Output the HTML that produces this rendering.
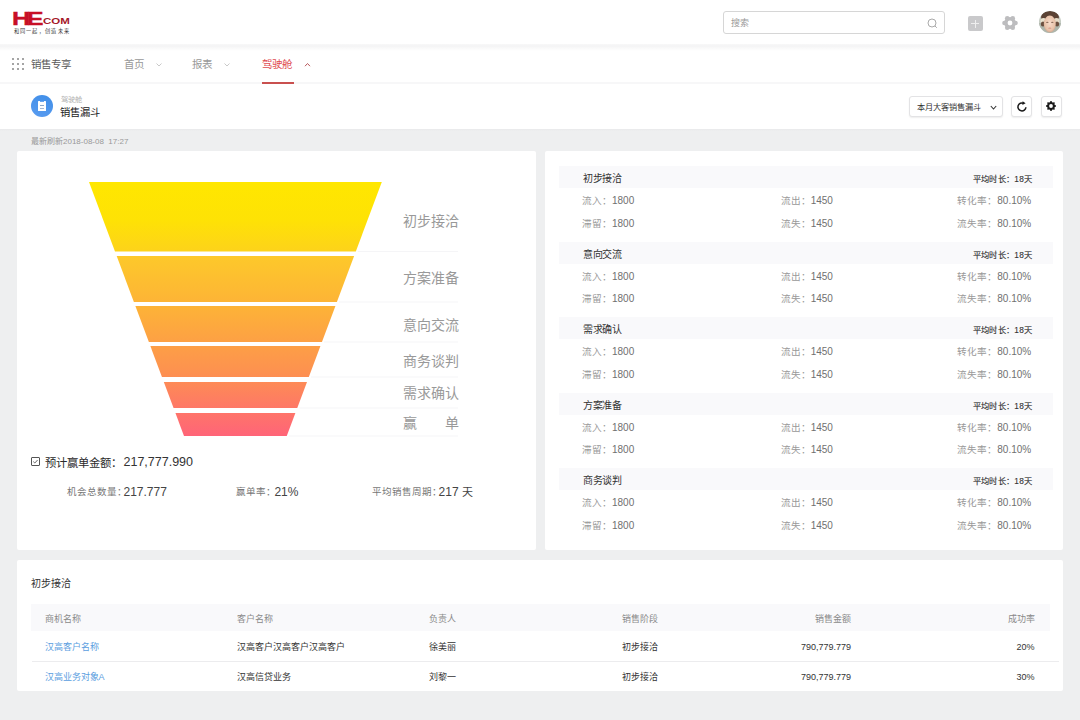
<!DOCTYPE html>
<html lang="zh-CN"><head><meta charset="utf-8">
<style>
*{box-sizing:border-box;margin:0;padding:0}
html,body{width:1080px;height:720px;overflow:hidden;background:#eeeff0;font-family:"Liberation Sans",sans-serif;color:#333}
.a{position:absolute;white-space:nowrap}
.t{position:absolute;white-space:nowrap;line-height:1}
#top{position:absolute;left:0;top:0;width:1080px;height:45px;background:#fff}
#sep1{position:absolute;left:0;top:44px;width:1080px;height:7px;background:linear-gradient(#f8f8f8,#f4f4f5 30%,#fafafa 65%,#fff)}
#nav{position:absolute;left:0;top:51px;width:1080px;height:30.5px;background:#fff}
#sep2{position:absolute;left:0;top:81.5px;width:1080px;height:3px;background:#f7f7f8}
#ph{position:absolute;left:0;top:84px;width:1080px;height:45px;background:#fff}
.card{position:absolute;background:#fff;border-radius:2px}
.band{position:absolute;background:#f9f9fb}
.lbl{color:#999}
.num{color:#707070}
</style></head><body>

<div id="top"></div>
<div id="sep1"></div>
<div id="nav"></div>
<div id="sep2"></div>
<div id="ph"></div>
<div class="a" style="left:0;top:129px;width:1080px;height:2px;background:linear-gradient(#e9e9eb,#eeeff0)"></div>

<!-- logo -->
<div class="t" style="left:11.5px;top:9.5px;font-size:18px;font-weight:bold;color:#c70f25;letter-spacing:-2.4px;-webkit-text-stroke:0.35px #c70f25;transform:scaleX(1.4);transform-origin:0 0">HE</div>
<div class="t" style="left:42.5px;top:16.2px;font-size:9.6px;font-weight:bold;color:#a5182a;transform:scaleX(1.2);transform-origin:0 0">COM</div>
<div class="t" style="left:13.5px;top:28.6px;font-size:5.2px;color:#333;letter-spacing:1.3px">和同一起，创造未来</div>
<!-- search -->
<div class="a" style="left:723px;top:11px;width:222px;height:23px;border:1px solid #d6d6d6;border-radius:3px;background:#fff"></div>
<div class="t" style="left:731px;top:19.3px;font-size:9px;color:#999">搜索</div>
<svg class="a" style="left:926px;top:17px" width="12" height="12" viewBox="0 0 12 12"><circle cx="6" cy="6" r="4" fill="none" stroke="#aaa" stroke-width="1"/><line x1="8.9" y1="8.9" x2="10.8" y2="10.8" stroke="#aaa" stroke-width="1"/></svg>
<!-- plus -->
<div class="a" style="left:967.5px;top:16px;width:15px;height:15px;background:#c9c9cb;border-radius:2px"></div>
<div class="a" style="left:974.5px;top:19.5px;width:1.2px;height:8px;background:#eee"></div>
<div class="a" style="left:971px;top:23px;width:8px;height:1.2px;background:#eee"></div>
<!-- gear -->
<svg class="a" style="left:1001.6px;top:15.2px" width="16" height="16" viewBox="0 0 16 16"><g fill="#bdbdbf"><circle cx="8" cy="8" r="5.9"/><circle cx="13.50" cy="8.00" r="2.3"/><circle cx="10.75" cy="12.76" r="2.3"/><circle cx="5.25" cy="12.76" r="2.3"/><circle cx="2.50" cy="8.00" r="2.3"/><circle cx="5.25" cy="3.24" r="2.3"/><circle cx="10.75" cy="3.24" r="2.3"/></g><circle cx="8" cy="8" r="2.4" fill="#fff"/></svg>
<!-- avatar -->
<svg class="a" style="left:1039px;top:11px" width="22" height="22" viewBox="0 0 22 22"><defs><clipPath id="avc"><circle cx="11" cy="11" r="11"/></clipPath>
<radialGradient id="avf" cx="0.5" cy="0.45" r="0.6"><stop offset="0" stop-color="#f6dccb"/><stop offset="0.7" stop-color="#e9c3aa"/><stop offset="1" stop-color="#c79c84"/></radialGradient></defs>
<g clip-path="url(#avc)">
<rect width="22" height="22" fill="#c5cbc2"/>
<rect x="0" y="12" width="22" height="10" fill="#aeb6ac"/>
<ellipse cx="11" cy="6" rx="9" ry="6" fill="#5b4234"/>
<ellipse cx="4.5" cy="10" rx="3" ry="3" fill="#e9e2cf"/>
<ellipse cx="17.5" cy="10" rx="3" ry="3" fill="#e5dcc8"/>
<ellipse cx="4" cy="13" rx="2.2" ry="2.5" fill="#6b5040"/>
<ellipse cx="18" cy="13" rx="2.2" ry="2.5" fill="#6b5040"/>
<ellipse cx="10.8" cy="13" rx="6" ry="8.5" fill="url(#avf)"/>
<ellipse cx="8.3" cy="11.3" rx="1.3" ry="0.6" fill="#8a6a58"/>
<ellipse cx="13.3" cy="11.3" rx="1.3" ry="0.6" fill="#8a6a58"/>
<ellipse cx="10.8" cy="17.2" rx="1.6" ry="0.6" fill="#d89a8a"/>
</g></svg>
<!-- nav -->
<svg class="a" style="left:12px;top:58px" width="12" height="12" viewBox="0 0 12 12" fill="#a5a5a5">
<rect x="0" y="0" width="2" height="2"/><rect x="5" y="0" width="2" height="2"/><rect x="10" y="0" width="2" height="2"/>
<rect x="0" y="5" width="2" height="2"/><rect x="5" y="5" width="2" height="2"/><rect x="10" y="5" width="2" height="2"/>
<rect x="0" y="10" width="2" height="2"/><rect x="5" y="10" width="2" height="2"/><rect x="10" y="10" width="2" height="2"/></svg>
<div class="t" style="left:31px;top:58.8px;font-size:10.5px;color:#5a5a5a">销售专享</div>
<div class="t" style="left:124px;top:58.8px;font-size:10.5px;color:#999">首页</div>
<svg class="a" style="left:155.5px;top:62.5px" width="6" height="4" viewBox="0 0 6 4"><path d="M0.5 0.5L3 3L5.5 0.5" fill="none" stroke="#bbb" stroke-width="0.8"/></svg>
<div class="t" style="left:192px;top:58.8px;font-size:10.5px;color:#999">报表</div>
<svg class="a" style="left:224px;top:62.5px" width="6" height="4" viewBox="0 0 6 4"><path d="M0.5 0.5L3 3L5.5 0.5" fill="none" stroke="#bbb" stroke-width="0.8"/></svg>
<div class="t" style="left:262px;top:58.8px;font-size:10.5px;color:#e04a4f">驾驶舱</div>
<svg class="a" style="left:304px;top:62px" width="7" height="5" viewBox="0 0 7 5"><path d="M1 4.2L3.5 1.5L6 4.2" fill="none" stroke="#b8585c" stroke-width="1"/></svg>
<div class="a" style="left:262px;top:81.7px;width:32px;height:2px;background:#c9504f"></div>

<!-- page header -->
<div class="a" style="left:31px;top:95px;width:22px;height:22px;border-radius:50%;background:linear-gradient(200deg,#3f8ee8,#5a9cf0)"></div>
<div class="a" style="left:38px;top:101px;width:8px;height:10.3px;background:#fff;border-radius:0.5px"></div>
<div class="a" style="left:39.6px;top:101px;width:4.8px;height:0.9px;background:#6aa6ee"></div>
<div class="a" style="left:40px;top:105px;width:4px;height:1.2px;background:#8fa8c8"></div>
<div class="a" style="left:40px;top:108px;width:4px;height:0.9px;background:#a8b8d0"></div>
<div class="t" style="left:60.5px;top:95.8px;font-size:7.3px;color:#b0b0b0">驾驶舱</div>
<div class="t" style="left:60px;top:107.5px;font-size:10.3px;color:#1a1a1a">销售漏斗</div>

<div class="a" style="left:909px;top:96px;width:94px;height:21px;border:1px solid #e3e3e5;border-radius:3px;background:#fff;box-shadow:0 1px 1.5px rgba(0,0,0,0.07)"></div>
<div class="t" style="left:917px;top:103.5px;font-size:8.2px;color:#333">本月大客销售漏斗</div>
<svg class="a" style="left:990px;top:104.8px" width="7" height="5" viewBox="0 0 7 5"><path d="M0.8 1L3.5 4L6.2 1" fill="none" stroke="#333" stroke-width="1.1"/></svg>
<div class="a" style="left:1011px;top:96px;width:21px;height:21px;border:1px solid #e3e3e5;border-radius:3px;background:#fff;box-shadow:0 1px 1.5px rgba(0,0,0,0.07)"></div>
<svg class="a" style="left:1015px;top:100px" width="14" height="14" viewBox="0 0 14 14"><path d="M10.9 7.2A4 4 0 1 1 8.6 3.3" fill="none" stroke="#1a1a1a" stroke-width="1.5"/><path d="M7.6 1.2L10.6 3.2L7.4 5z" fill="#1a1a1a"/></svg>
<div class="a" style="left:1041px;top:96px;width:21px;height:21px;border:1px solid #e3e3e5;border-radius:3px;background:#fff;box-shadow:0 1px 1.5px rgba(0,0,0,0.07)"></div>
<svg class="a" style="left:1044px;top:99.4px" width="14" height="14" viewBox="0 0 14 14"><polygon fill="#1a1a1a" points="6.51,2.02 7.49,2.02 8.13,3.27 8.84,3.56 10.17,3.13 10.87,3.83 10.44,5.16 10.73,5.87 11.98,6.51 11.98,7.49 10.73,8.13 10.44,8.84 10.87,10.17 10.17,10.87 8.84,10.44 8.13,10.73 7.49,11.98 6.51,11.98 5.87,10.73 5.16,10.44 3.83,10.87 3.13,10.17 3.56,8.84 3.27,8.13 2.02,7.49 2.02,6.51 3.27,5.87 3.56,5.16 3.13,3.83 3.83,3.13 5.16,3.56 5.87,3.27"/><circle cx="7" cy="7" r="1.9" fill="#fff"/></svg>

<div class="t" style="left:31px;top:137.5px;font-size:8px;color:#999">最新刷新2018-08-08&nbsp;&nbsp;17:27</div>

<!-- cards -->
<div class="card" style="left:17px;top:151px;width:519px;height:399px"></div>
<div class="card" style="left:545px;top:151px;width:518px;height:399px"></div>
<div class="card" style="left:17px;top:560px;width:1046px;height:131px"></div>

<!-- FUNNEL -->
<svg class="a" style="left:0;top:0" width="540" height="560" viewBox="0 0 540 560">
<defs><linearGradient id="fg" gradientUnits="userSpaceOnUse" x1="0" y1="182" x2="0" y2="436"><stop offset="0" stop-color="#ffe700"/><stop offset="0.15" stop-color="#fee205"/><stop offset="0.27" stop-color="#fdd31a"/><stop offset="0.29" stop-color="#fdc92a"/><stop offset="0.5" stop-color="#fdb138"/><stop offset="0.75" stop-color="#fd9150"/><stop offset="1" stop-color="#ff6478"/></linearGradient></defs>
<polygon points="89.00,182 381.80,182 355.80,251.5 115.00,251.5" fill="url(#fg)"/>
<polygon points="116.68,256 354.12,256 336.91,302 133.89,302" fill="url(#fg)"/>
<polygon points="135.39,306 335.41,306 321.94,342 148.86,342" fill="url(#fg)"/>
<polygon points="150.35,346 320.45,346 308.85,377 161.95,377" fill="url(#fg)"/>
<polygon points="163.82,382 306.98,382 297.25,408 173.55,408" fill="url(#fg)"/>
<polygon points="175.42,413 295.38,413 286.78,436 184.02,436" fill="url(#fg)"/>
<rect x="357.8" y="251.0" width="100.2" height="1" fill="#f5f5f7"/>
<rect x="338.9" y="301.5" width="119.1" height="1" fill="#f5f5f7"/>
<rect x="323.9" y="341.5" width="134.1" height="1" fill="#f5f5f7"/>
<rect x="310.9" y="376.5" width="147.1" height="1" fill="#f5f5f7"/>
<rect x="299.3" y="407.5" width="158.7" height="1" fill="#f5f5f7"/>
<rect x="288.8" y="435.5" width="169.2" height="1" fill="#f5f5f7"/>
</svg>
<div class="t" style="left:403px;top:214.4px;font-size:14px;color:#999">初步接洽</div>
<div class="t" style="left:403px;top:271.4px;font-size:14px;color:#999">方案准备</div>
<div class="t" style="left:403px;top:317.7px;font-size:14px;color:#999">意向交流</div>
<div class="t" style="left:403px;top:353.6px;font-size:14px;color:#999">商务谈判</div>
<div class="t" style="left:403px;top:385.8px;font-size:14px;color:#999">需求确认</div>
<div class="t" style="left:403px;top:416.0px;font-size:14px;color:#999">赢</div>
<div class="t" style="left:445px;top:416.0px;font-size:14px;color:#999">单</div>
<svg class="a" style="left:31px;top:456.5px" width="9" height="9" viewBox="0 0 9 9"><rect x="0.5" y="0.5" width="8" height="8" rx="0.5" fill="none" stroke="#555" stroke-width="1"/><path d="M2.3 4.6L3.8 6L6.6 3" fill="none" stroke="#555" stroke-width="0.9"/></svg>
<div class="t" style="left:45px;top:457.5px;font-size:11.3px;color:#2a2a2a">预计赢单金额：</div>
<div class="t" style="left:123.5px;top:455.5px;font-size:12.5px;color:#333">217,777.990</div>
<div class="t" style="left:67px;top:487px;font-size:9.5px;color:#777">机会总数量：</div>
<div class="t" style="left:123.5px;top:485.5px;font-size:12px;color:#444">217.777</div>
<div class="t" style="left:235.5px;top:487px;font-size:9.5px;color:#777">赢单率：</div>
<div class="t" style="left:274.4px;top:485.5px;font-size:12px;color:#444">21%</div>
<div class="t" style="left:371.7px;top:487px;font-size:9.5px;color:#777">平均销售周期：</div>
<div class="t" style="left:438.6px;top:485.5px;font-size:12px;color:#444">217 <span style="font-size:11px">天</span></div>
<!-- RIGHT PANEL -->
<div class="band" style="left:559px;top:166.00px;width:494px;height:22px"></div>
<div class="t" style="left:583px;top:174.10px;font-size:10px;letter-spacing:-0.5px;color:#333">初步接洽</div>
<div class="t" style="right:47.4px;top:175.30px;font-size:8.3px;letter-spacing:0.35px;color:#333;-webkit-text-stroke:0.12px #333">平均时长：18天</div>
<div class="t" style="left:582px;top:196.20px;font-size:10px"><span class="lbl" style="font-size:9.6px">流入：</span><span class="num">1800</span></div>
<div class="t" style="left:780.7px;top:196.20px;font-size:10px"><span class="lbl" style="font-size:9.6px">流出：</span><span class="num">1450</span></div>
<div class="t" style="right:48.799999999999955px;top:196.20px;font-size:10px"><span class="lbl" style="font-size:9.6px">转化率：</span><span class="num">80.10%</span></div>
<div class="t" style="left:582px;top:218.90px;font-size:10px"><span class="lbl" style="font-size:9.6px">滞留：</span><span class="num">1800</span></div>
<div class="t" style="left:780.7px;top:218.90px;font-size:10px"><span class="lbl" style="font-size:9.6px">流失：</span><span class="num">1450</span></div>
<div class="t" style="right:48.799999999999955px;top:218.90px;font-size:10px"><span class="lbl" style="font-size:9.6px">流失率：</span><span class="num">80.10%</span></div>
<div class="band" style="left:559px;top:241.50px;width:494px;height:22px"></div>
<div class="t" style="left:583px;top:249.60px;font-size:10px;letter-spacing:-0.5px;color:#333">意向交流</div>
<div class="t" style="right:47.4px;top:250.80px;font-size:8.3px;letter-spacing:0.35px;color:#333;-webkit-text-stroke:0.12px #333">平均时长：18天</div>
<div class="t" style="left:582px;top:271.70px;font-size:10px"><span class="lbl" style="font-size:9.6px">流入：</span><span class="num">1800</span></div>
<div class="t" style="left:780.7px;top:271.70px;font-size:10px"><span class="lbl" style="font-size:9.6px">流出：</span><span class="num">1450</span></div>
<div class="t" style="right:48.799999999999955px;top:271.70px;font-size:10px"><span class="lbl" style="font-size:9.6px">转化率：</span><span class="num">80.10%</span></div>
<div class="t" style="left:582px;top:294.40px;font-size:10px"><span class="lbl" style="font-size:9.6px">滞留：</span><span class="num">1800</span></div>
<div class="t" style="left:780.7px;top:294.40px;font-size:10px"><span class="lbl" style="font-size:9.6px">流失：</span><span class="num">1450</span></div>
<div class="t" style="right:48.799999999999955px;top:294.40px;font-size:10px"><span class="lbl" style="font-size:9.6px">流失率：</span><span class="num">80.10%</span></div>
<div class="band" style="left:559px;top:317.00px;width:494px;height:22px"></div>
<div class="t" style="left:583px;top:325.10px;font-size:10px;letter-spacing:-0.5px;color:#333">需求确认</div>
<div class="t" style="right:47.4px;top:326.30px;font-size:8.3px;letter-spacing:0.35px;color:#333;-webkit-text-stroke:0.12px #333">平均时长：18天</div>
<div class="t" style="left:582px;top:347.20px;font-size:10px"><span class="lbl" style="font-size:9.6px">流入：</span><span class="num">1800</span></div>
<div class="t" style="left:780.7px;top:347.20px;font-size:10px"><span class="lbl" style="font-size:9.6px">流出：</span><span class="num">1450</span></div>
<div class="t" style="right:48.799999999999955px;top:347.20px;font-size:10px"><span class="lbl" style="font-size:9.6px">转化率：</span><span class="num">80.10%</span></div>
<div class="t" style="left:582px;top:369.90px;font-size:10px"><span class="lbl" style="font-size:9.6px">滞留：</span><span class="num">1800</span></div>
<div class="t" style="left:780.7px;top:369.90px;font-size:10px"><span class="lbl" style="font-size:9.6px">流失：</span><span class="num">1450</span></div>
<div class="t" style="right:48.799999999999955px;top:369.90px;font-size:10px"><span class="lbl" style="font-size:9.6px">流失率：</span><span class="num">80.10%</span></div>
<div class="band" style="left:559px;top:392.50px;width:494px;height:22px"></div>
<div class="t" style="left:583px;top:400.60px;font-size:10px;letter-spacing:-0.5px;color:#333">方案准备</div>
<div class="t" style="right:47.4px;top:401.80px;font-size:8.3px;letter-spacing:0.35px;color:#333;-webkit-text-stroke:0.12px #333">平均时长：18天</div>
<div class="t" style="left:582px;top:422.70px;font-size:10px"><span class="lbl" style="font-size:9.6px">流入：</span><span class="num">1800</span></div>
<div class="t" style="left:780.7px;top:422.70px;font-size:10px"><span class="lbl" style="font-size:9.6px">流出：</span><span class="num">1450</span></div>
<div class="t" style="right:48.799999999999955px;top:422.70px;font-size:10px"><span class="lbl" style="font-size:9.6px">转化率：</span><span class="num">80.10%</span></div>
<div class="t" style="left:582px;top:445.40px;font-size:10px"><span class="lbl" style="font-size:9.6px">滞留：</span><span class="num">1800</span></div>
<div class="t" style="left:780.7px;top:445.40px;font-size:10px"><span class="lbl" style="font-size:9.6px">流失：</span><span class="num">1450</span></div>
<div class="t" style="right:48.799999999999955px;top:445.40px;font-size:10px"><span class="lbl" style="font-size:9.6px">流失率：</span><span class="num">80.10%</span></div>
<div class="band" style="left:559px;top:468.00px;width:494px;height:22px"></div>
<div class="t" style="left:583px;top:476.10px;font-size:10px;letter-spacing:-0.5px;color:#333">商务谈判</div>
<div class="t" style="right:47.4px;top:477.30px;font-size:8.3px;letter-spacing:0.35px;color:#333;-webkit-text-stroke:0.12px #333">平均时长：18天</div>
<div class="t" style="left:582px;top:498.20px;font-size:10px"><span class="lbl" style="font-size:9.6px">流入：</span><span class="num">1800</span></div>
<div class="t" style="left:780.7px;top:498.20px;font-size:10px"><span class="lbl" style="font-size:9.6px">流出：</span><span class="num">1450</span></div>
<div class="t" style="right:48.799999999999955px;top:498.20px;font-size:10px"><span class="lbl" style="font-size:9.6px">转化率：</span><span class="num">80.10%</span></div>
<div class="t" style="left:582px;top:520.90px;font-size:10px"><span class="lbl" style="font-size:9.6px">滞留：</span><span class="num">1800</span></div>
<div class="t" style="left:780.7px;top:520.90px;font-size:10px"><span class="lbl" style="font-size:9.6px">流失：</span><span class="num">1450</span></div>
<div class="t" style="right:48.799999999999955px;top:520.90px;font-size:10px"><span class="lbl" style="font-size:9.6px">流失率：</span><span class="num">80.10%</span></div>
<!-- TABLE -->
<div class="t" style="left:31px;top:578.5px;font-size:10px;color:#333">初步接洽</div>
<div class="band" style="left:31px;top:604px;width:1019px;height:27px"></div>
<div class="t" style="left:44.5px;top:615.0px;font-size:9px;color:#8a8a8a">商机名称</div>
<div class="t" style="left:236.5px;top:615.0px;font-size:9px;color:#8a8a8a">客户名称</div>
<div class="t" style="left:429px;top:615.0px;font-size:9px;color:#8a8a8a">负责人</div>
<div class="t" style="left:621.5px;top:615.0px;font-size:9px;color:#8a8a8a">销售阶段</div>
<div class="t" style="right:229.0px;top:615.0px;font-size:9px;color:#8a8a8a">销售金额</div>
<div class="t" style="right:45.4px;top:615.0px;font-size:9px;color:#8a8a8a">成功率</div>
<div class="t" style="left:44.5px;top:642.7px;font-size:9px;color:#5b9ee0">汉高客户名称</div>
<div class="t" style="left:236.5px;top:642.7px;font-size:9px;color:#333">汉高客户汉高客户汉高客户</div>
<div class="t" style="left:429px;top:642.7px;font-size:9px;color:#333">徐美丽</div>
<div class="t" style="left:621.5px;top:642.7px;font-size:9px;color:#333">初步接洽</div>
<div class="t" style="right:229.0px;top:642.7px;font-size:9px;color:#333">790,779.779</div>
<div class="t" style="right:45.4px;top:642.7px;font-size:9px;color:#333">20%</div>
<div class="t" style="left:44.5px;top:672.9px;font-size:9px;color:#5b9ee0">汉高业务对象A</div>
<div class="t" style="left:236.5px;top:672.9px;font-size:9px;color:#333">汉高信贷业务</div>
<div class="t" style="left:429px;top:672.9px;font-size:9px;color:#333">刘黎一</div>
<div class="t" style="left:621.5px;top:672.9px;font-size:9px;color:#333">初步接洽</div>
<div class="t" style="right:229.0px;top:672.9px;font-size:9px;color:#333">790,779.779</div>
<div class="t" style="right:45.4px;top:672.9px;font-size:9px;color:#333">30%</div>
<div class="a" style="left:32px;top:661px;width:1027px;height:1px;background:#ececee"></div>
</body></html>
